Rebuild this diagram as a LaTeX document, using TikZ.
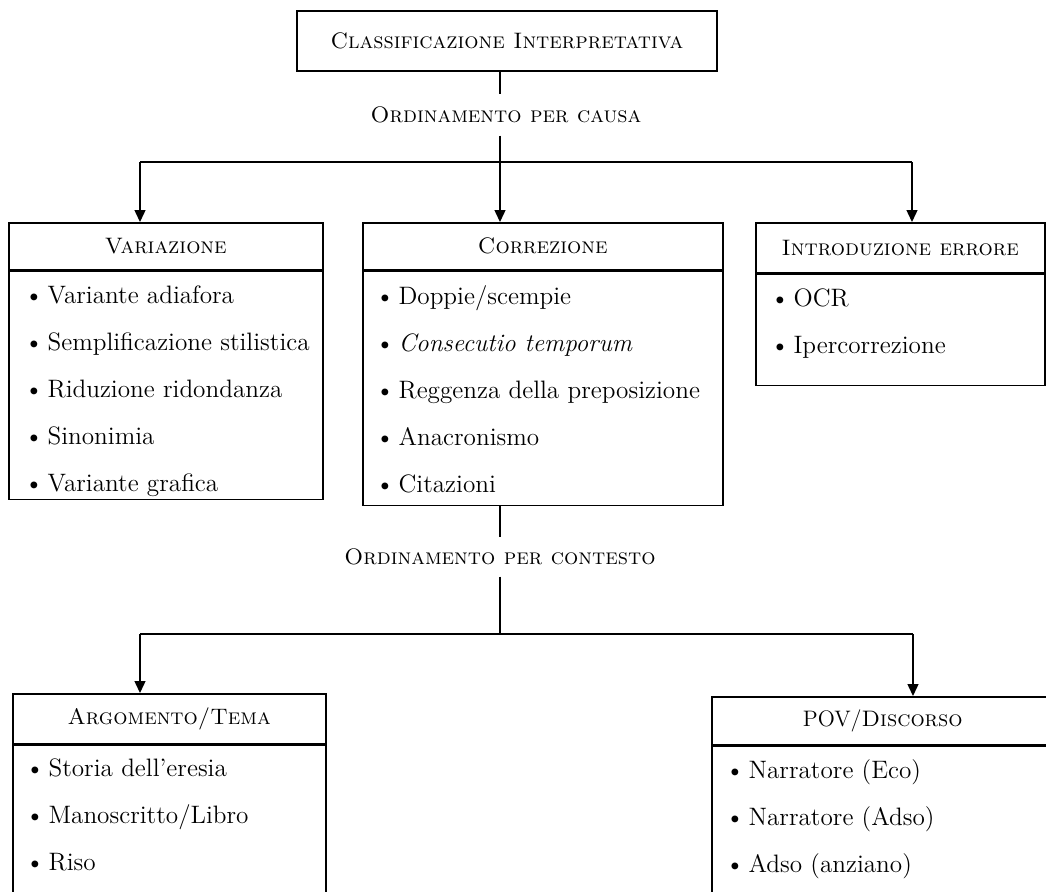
\documentclass[tikz,border=0pt]{standalone}
\usepackage{tikz}
\usetikzlibrary{positioning, arrows.meta}
\newcommand{\bul}{\textbullet\hspace{2pt}}

\begin{document}
\begin{tikzpicture}[
        x=0.5pt, y=-0.5pt,
        font=\fontsize{12.6}{23.5}\selectfont,
        sc/.style    = {font=\fontsize{11.2}{13}\selectfont},
        head/.style  = {draw, rectangle, sc, line width=0.8pt, anchor=north west, minimum height=23.5pt, inner sep=0pt},
        body/.style  = {draw, rectangle, line width=0.8pt, anchor=north, inner sep=0pt},
        items/.style = {align=left, inner sep=0pt, anchor=north west},
        lbl/.style   = {sc, inner sep=6pt},
        line/.style  = {line width=0.7pt},
        arrow/.style = {line width=0.7pt, -{Triangle[length=6pt, width=5.5pt]}},
    ]
        \useasboundingbox (0,0) rectangle (1046,891);
        \clip (0,0) rectangle (1046,891);

        %---- root ----
        \node[draw, sc, line width=0.8pt, minimum width=210pt, minimum height=30pt] (topC) at (507,41) {\textsc{Classificazione Interpretativa}};
        \node[lbl] (ordC) at (506,115) {\textsc{Ordinamento per causa}};
        \coordinate (splitC) at (500,162);
        \coordinate (brV) at (140,162);
        \coordinate (brI) at (912,162);
        \draw[line] (topC.south -| splitC) -- (ordC.north -| splitC);
        \draw[line] (ordC.south -| splitC) -- (splitC);
        \draw[line] (brV) -- (brI);

        %---- Variazione ----
        \node[head, minimum width=157pt] (varH) at (8,222) {\textsc{Variazione}};
        \node[body, minimum width=157pt, minimum height=114pt, below=0pt of varH] (varB) {};
        \node[items, below right=7.5pt and 8pt of varB.north west] (varL) {%
            \bul Variante adiafora\\
            \bul Semplificazione stilistica\\
            \bul Riduzione ridondanza\\
            \bul Sinonimia\\
            \bul Variante grafica};
        \draw[arrow] (brV) -- (brV |- varH.north);

        %---- Correzione ----
        \node[head, minimum width=180pt] (corH) at (362,222) {\textsc{Correzione}};
        \node[body, minimum width=180pt, minimum height=117pt, below=0pt of corH] (corB) {};
        \node[items, below right=7.5pt and 6.5pt of corB.north west] (corL) {%
            \bul Doppie/scempie\\
            \bul \textit{Consecutio temporum}\\
            \bul Reggenza della preposizione\\
            \bul Anacronismo\\
            \bul Citazioni};
        \draw[arrow] (splitC) -- (splitC |- corH.north);

        %---- Introduzione errore ----
        \node[head, minimum width=144.5pt, minimum height=25pt] (errH) at (755,222) {\textsc{Introduzione errore}};
        \node[body, minimum width=144.5pt, minimum height=55.5pt, below=0pt of errH] (errB) {};
        \node[items, below right=7.5pt and 7.5pt of errB.north west] (errL) {%
            \bul OCR\\
            \bul Ipercorrezione};
        \draw[arrow] (brI) -- (brI |- errH.north);

        %---- second level ----
        \node[lbl, inner sep=5.5pt] (ordX) at (500,557) {\textsc{Ordinamento per contesto}};
        \coordinate (splitX) at (500,634);
        \coordinate (brA) at (140,634);
        \coordinate (brP) at (913,634);
        \draw[line] (corB.south -| ordX.north) -- (ordX.north);
        \draw[line] (ordX.south) -- (splitX);
        \draw[line] (brA) -- (brP);

        %---- Argomento/Tema ----
        \node[head, minimum width=156.5pt, minimum height=25pt] (argH) at (12,693) {\textsc{Argomento/Tema}};
        \node[body, minimum width=156.5pt, minimum height=120pt, below=0pt of argH] (argB) {};
        \node[items, below right=7pt and 6.5pt of argB.north west] (argL) {%
            \bul Storia dell'eresia\\
            \bul Manoscritto/Libro\\
            \bul Riso};
        \draw[arrow] (brA) -- (brA |- argH.north);

        %---- POV/Discorso ----
        \node[head, minimum width=171pt, minimum height=24pt] (povH) at (711,696) {POV/\textsc{Discorso}};
        \node[body, minimum width=171pt, minimum height=120pt, below=0pt of povH] (povB) {};
        \node[items, below right=7pt and 7pt of povB.north west] (povL) {%
            \bul Narratore (Eco)\\
            \bul Narratore (Adso)\\
            \bul Adso (anziano)};
        \draw[arrow] (brP) -- (brP |- povH.north);
    \end{tikzpicture}
\end{document}
